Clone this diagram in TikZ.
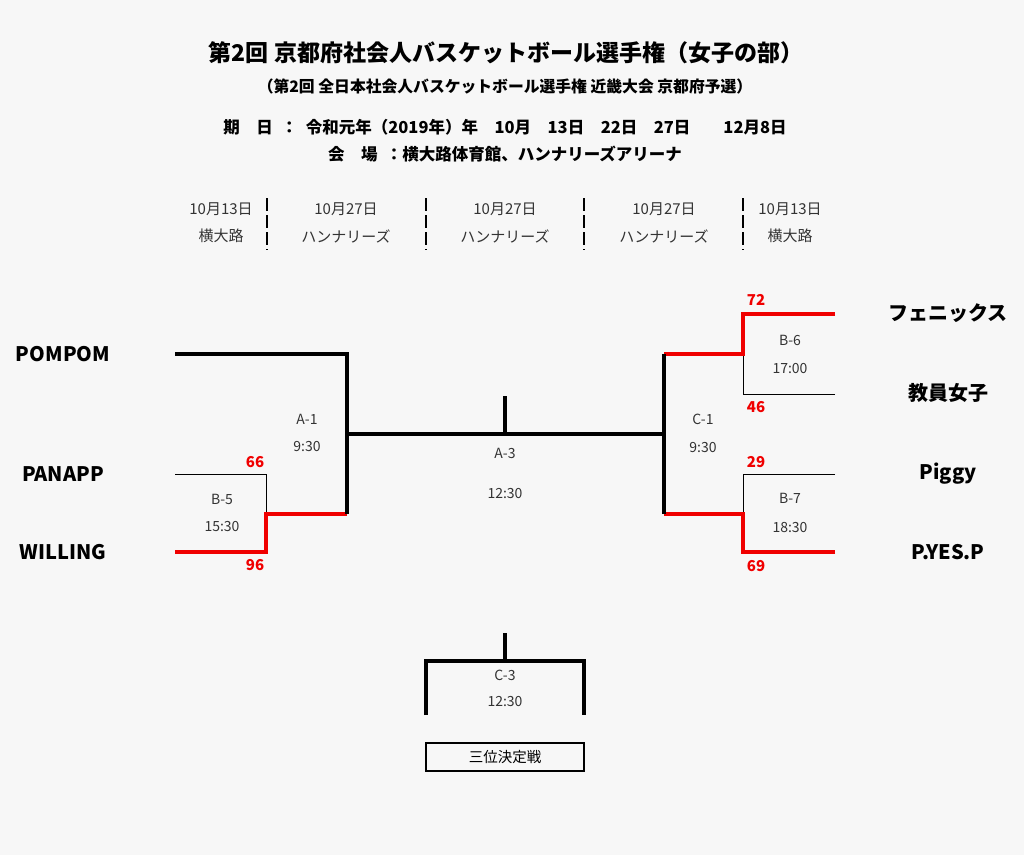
\documentclass[tikz,border=0pt]{standalone}
\usepackage{fontspec}
\setmainfont{Noto Sans CJK JP}
\usetikzlibrary{positioning}
\definecolor{bggray}{HTML}{F7F7F7}
\definecolor{wincolor}{HTML}{F00000}
\definecolor{labgray}{HTML}{333333}
\tikzset{
	thickline/.style={line width=3.3pt},
	winline/.style={wincolor, line width=3.3pt},
	thinline/.style={line width=1pt},
	sepline/.style={line width=2.4pt, dash pattern=on 13pt off 4pt},
	team/.style={font=\fontsize{20}{24}\selectfont\bfseries},
	score/.style={text=wincolor, font=\fontsize{15}{18}\selectfont\bfseries},
	game/.style={text=labgray, font=\fontsize{14}{17}\selectfont},
	colhead/.style={text=labgray, font=\fontsize{15}{17}\selectfont},
}
\begin{document}
\begin{tikzpicture}[x=1pt, y=-1pt]
					\useasboundingbox[fill=bggray] (0,0) rectangle (1024,855);

					\node[font=\fontsize{23}{27}\selectfont\bfseries] (title) at (506,53) {第2回 京都府社会人バスケットボール選手権（女子の部）};
					\node[font=\fontsize{15.8}{18}\selectfont\bfseries] (subtitle) at (505,86) {（第2回 全日本社会人バスケットボール選手権 近畿大会 京都府予選）};
					\node[font=\fontsize{16.5}{19}\selectfont\bfseries] (dates) at (505,127) {期\quad 日\enspace：\enspace 令和元年（2019年）年\quad 10月\quad 13日\quad 22日\quad 27日\qquad 12月8日};
					\node[font=\fontsize{16.5}{19}\selectfont\bfseries] (venue) at (505,154) {会\quad 場\enspace：横大路体育館、ハンナリーズアリーナ};

					\node[colhead] (d1) at (221,209) {10月13日};
					\node[colhead] (v1) at (221,236) {横大路};
					\node[colhead] (d2) at (346,209) {10月27日};
					\node[colhead] (v2) at (346,236) {ハンナリーズ};
					\node[colhead] (d3) at (505,209) {10月27日};
					\node[colhead] (v3) at (505,236) {ハンナリーズ};
					\node[colhead] (d4) at (664,209) {10月27日};
					\node[colhead] (v4) at (664,236) {ハンナリーズ};
					\node[colhead] (d5) at (790,209) {10月13日};
					\node[colhead] (v5) at (790,236) {横大路};

					\foreach \x in {267,426,584,743}
						\draw[sepline] (\x,198) -- (\x,250);

					\node[team] (pompom) at (63,354) {POMPOM};
					\node[team] (panapp) at (63,474) {PANAPP};
					\node[team] (willing) at (63,552) {WILLING};
					\node[team] (phoenix) at (948,313) {フェニックス};
					\node[team] (kyoin) at (948,393) {教員女子};
					\node[team] (piggy) at (948,474) {Piggy};
					\node[team] (pyesp) at (948,552) {P.YES.P};

					\coordinate (pompomend) at (175,354);
					\coordinate (panappend) at (175,474);
					\coordinate (willingend) at (175,552);
					\coordinate (b5top) at (266,474);
					\coordinate (b5bot) at (266,552);
					\coordinate (b5out) at (266,514);
					\coordinate (a1top) at (347,354);
					\coordinate (a1bot) at (347,514);
					\coordinate (a1out) at (347,434);
					\coordinate (c1top) at (664,354);
					\coordinate (c1bot) at (664,514);
					\coordinate (c1out) at (664,434);
					\coordinate (a3tick) at (505,396);
					\coordinate (a3mid) at (505,434);
					\coordinate (phoenixend) at (835,314);
					\coordinate (kyoinend) at (835,394);
					\coordinate (piggyend) at (835,474);
					\coordinate (pyespend) at (835,552);
					\coordinate (b6top) at (743,314);
					\coordinate (b6bot) at (743,394);
					\coordinate (b6out) at (743,354);
					\coordinate (b7top) at (743,474);
					\coordinate (b7bot) at (743,552);
					\coordinate (b7out) at (743,514);

					\draw[thinline] (panappend) -- (b5top) -- (b5out);
					\draw[thinline] (kyoinend) -- (b6bot) -- (b6out);
					\draw[thinline] (piggyend) -- (b7top) -- (b7out);
					\draw[winline] (willingend) -- (b5bot) -- (b5out) -- (a1bot);
					\draw[winline] (phoenixend) -- (b6top) -- (b6out) -- (c1top);
					\draw[winline] (pyespend) -- (b7bot) -- (b7out) -- (c1bot);
					\draw[thickline] (pompomend) -- (a1top) -- (a1bot);
					\draw[thickline] (c1top) -- (c1bot);
					\draw[thickline] (a1out) -- (c1out);
					\draw[thickline] (a3tick) -- (a3mid);

					\node[score] (s66) at (255,462) {66};
					\node[score] (s96) at (255,565) {96};
					\node[score] (s72) at (756,300) {72};
					\node[score] (s46) at (756,407) {46};
					\node[score] (s29) at (756,462) {29};
					\node[score] (s69) at (756,566) {69};

					\node[game] (a1) at (307,419) {A-1};
					\node[game] (a1t) at (307,446) {9:30};
					\node[game] (b5) at (222,499) {B-5};
					\node[game] (b5t) at (222,526) {15:30};
					\node[game] (a3) at (505,453) {A-3};
					\node[game] (a3t) at (505,493) {12:30};
					\node[game] (c1) at (703,419) {C-1};
					\node[game] (c1t) at (703,447) {9:30};
					\node[game] (b6) at (790,340) {B-6};
					\node[game] (b6t) at (790,368) {17:00};
					\node[game] (b7) at (790,498) {B-7};
					\node[game] (b7t) at (790,527) {18:30};

					\coordinate (c3tick) at (505,633);
					\coordinate (c3mid) at (505,661);
					\coordinate (c3left) at (426,661);
					\coordinate (c3right) at (584,661);
					\coordinate (c3leftend) at (426,715);
					\coordinate (c3rightend) at (584,715);
					\draw[thickline] (c3leftend) -- (c3left) -- (c3right) -- (c3rightend);
					\draw[thickline] (c3tick) -- (c3mid);
					\node[game] (c3) at (505,675) {C-3};
					\node[game] (c3t) at (505,701) {12:30};

					\node[draw, line width=2pt, minimum width=158pt, minimum height=28pt, inner sep=0pt, font=\fontsize{14.5}{17}\selectfont] (third) at (505,757) {三位決定戦};

				\end{tikzpicture}
\end{document}
